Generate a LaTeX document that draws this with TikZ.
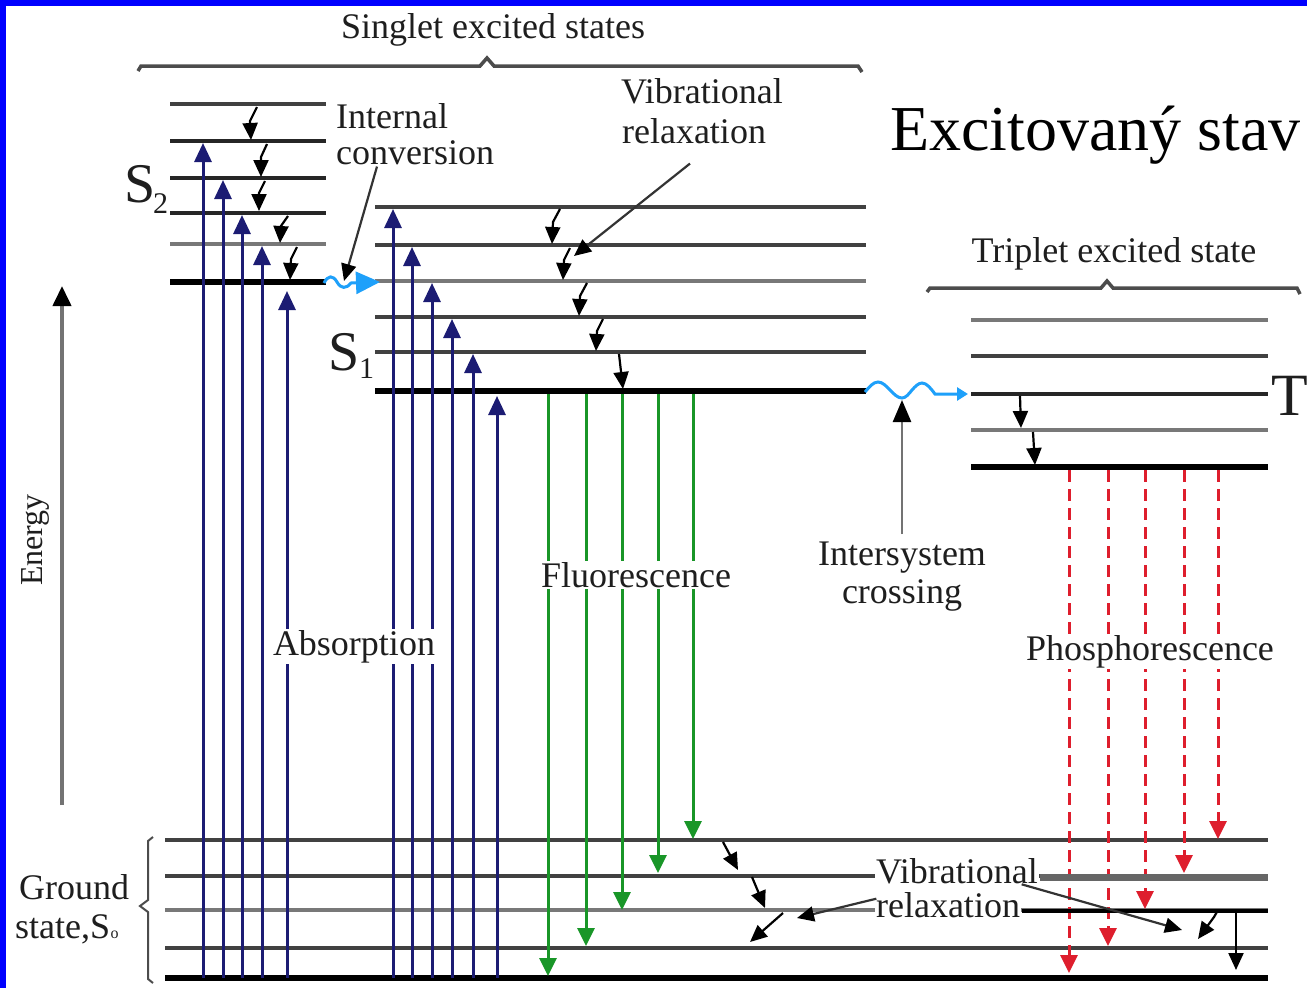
\documentclass[tikz,border=0pt]{standalone}
\usepackage{fontspec}
\setmainfont{Liberation Serif}
\usetikzlibrary{arrows.meta}
\definecolor{navyb}{RGB}{28,28,115}
\definecolor{fgreen}{RGB}{25,150,40}
\definecolor{pred}{RGB}{222,30,45}
\definecolor{skyb}{RGB}{30,160,250}
\definecolor{lvl}{RGB}{65,65,65}
\definecolor{lvll}{RGB}{120,120,120}
\definecolor{txt}{RGB}{30,30,30}
\definecolor{frameblue}{RGB}{0,0,255}
\begin{document}
\begin{tikzpicture}[x=1pt,y=-1pt,
  lab/.style={font=\fontsize{36}{38}\selectfont, text=txt, inner sep=0pt},
  labw/.style={lab, fill=white, inner sep=1.5pt},
  lev/.style={draw=lvl, line width=3.8pt},
  levl/.style={draw=lvll, line width=3.8pt},
  levt/.style={draw=black, line width=6.5pt},
  absarr/.style={draw=navyb, line width=3pt, -{Triangle[length=19pt,width=17pt]}},
  fluarr/.style={draw=fgreen, line width=3pt, -{Triangle[length=18pt,width=17pt]}},
  phoarr/.style={draw=pred, line width=3pt, dash pattern=on 12pt off 7pt, -{Triangle[length=18pt,width=17pt]}},
  vrarr/.style={draw=black, line width=2.2pt, -{Triangle[length=17pt,width=15pt]}},
  ptr/.style={draw=black!80, line width=2.2pt, -{Triangle[length=17pt,width=15pt,black]}},
  bracestyle/.style={draw=black!70, line width=3.5pt},
  wave/.style={draw=skyb, line width=3pt},
]
\useasboundingbox (0,0) rectangle (1307,988);
\fill[white] (0,0) rectangle (1307,988);
\fill[frameblue] (0,0) rectangle (1307,6);
\fill[frameblue] (0,0) rectangle (6,988);

% ---------- braces ----------
\draw[bracestyle] (138,71) -- (141,66) -- (480,66) -- (487,58) -- (494,66) -- (858,66) -- (862,72);
\draw[bracestyle] (927,292) -- (930,288) -- (1101,288) -- (1107,281) -- (1113,288) -- (1297,288) -- (1300,294);
\draw[bracestyle, line width=2pt] (153,837) -- (148,841) -- (148,900) -- (140,906) -- (148,912) -- (148,979) -- (153,983);

% ---------- S2 levels ----------
\draw[lev] (170,104) -- (326,104);
\draw[lev, draw=black!85] (170,141) -- (326,141);
\draw[lev, draw=black!85] (170,178) -- (326,178);
\draw[lev, draw=black!85] (170,213) -- (326,213);
\draw[levl] (170,244) -- (326,244);
\draw[levt] (170,282) -- (326,282);

% ---------- S1 levels ----------
\draw[lev] (375,207) -- (866,207);
\draw[lev] (375,245) -- (866,245);
\draw[levl] (375,281) -- (866,281);
\draw[lev] (375,317) -- (866,317);
\draw[lev] (375,352) -- (866,352);
\draw[levt] (375,391) -- (866,391);

% ---------- T1 levels ----------
\draw[levl] (971,320) -- (1268,320);
\draw[lev] (971,356) -- (1268,356);
\draw[lev, draw=black!85] (971,394) -- (1268,394);
\draw[levl] (971,430) -- (1268,430);
\draw[levt] (971,467) -- (1268,467);

% ---------- ground levels ----------
\draw[lev] (165,840) -- (1268,840);
\draw[lev] (165,876) -- (1268,876);
\draw[levl] (165,910) -- (1268,910);
\draw[lev] (165,948) -- (1268,948);
\draw[levt] (165,978) -- (1268,978);

% ---------- absorption ----------
\foreach \x/\t in {203/143, 223/180, 242/215, 262/246, 287/291,
                   393/209, 412/247, 432/283, 452/319, 473/354, 497/396}
  \draw[absarr] (\x,978) -- (\x,\t);

% ---------- fluorescence ----------
\foreach \x/\t in {548/976, 586/946, 622/910, 658/873, 693/839}
  \draw[fluarr] (\x,394) -- (\x,\t);

% ---------- phosphorescence ----------
\foreach \x/\t in {1069/973, 1108/946, 1145/909, 1184/873, 1218/839}
  \draw[phoarr] (\x,470) -- (\x,\t);

% ---------- vibrational relaxation (S2) ----------
\draw[vrarr] (257,107) -- (250,121) -- (251,140);
\draw[vrarr] (267,144) -- (261,157) -- (261,177);
\draw[vrarr] (265,181) -- (259,193) -- (259,211);
\draw[vrarr] (288,216) -- (281,226) -- (280,243);
\draw[vrarr] (297,247) -- (291,259) -- (290,280);

% ---------- vibrational relaxation (S1) ----------
\draw[vrarr] (560,209) -- (553,222) -- (552,244);
\draw[vrarr] (570,248) -- (564,260) -- (563,280);
\draw[vrarr] (587,283) -- (580,296) -- (579,316);
\draw[vrarr] (603,319) -- (597,331) -- (596,351);
\draw[vrarr] (619,354) -- (623,389);

% ---------- T1 relaxation ----------
\draw[vrarr] (1020,396) -- (1021,428);
\draw[vrarr] (1033,432) -- (1035,465);

% ---------- ground vibrational relaxation ----------
\draw[vrarr] (723,842) -- (738,870);
\draw[vrarr] (752,877) -- (765,908);
\draw[vrarr] (783,913) -- (750,942);
\draw[vrarr] (1218,910) -- (1214,917) -- (1198,939);
\draw[vrarr] (1236,913) -- (1236,970);

% ---------- wavy transitions ----------
\draw[wave, -{Triangle[length=24pt,width=22pt]}]
  (324,283) .. controls (328,275) and (333,275) .. (337,282)
  .. controls (341,289) and (346,289) .. (351,283) -- (380,282);
\draw[wave, -{Triangle[length=11pt,width=13pt]}]
  (865,392) sin (878,382) cos (890,390) sin (902,398) cos (912,390)
  sin (922,383) cos (935,394) -- (968,394);

% ---------- energy axis ----------
\draw[draw=black!55, line width=4pt, -{Triangle[length=20pt,width=18pt,black]}] (62,805) -- (62,286);
\node[font=\fontsize{32}{34}\selectfont, text=txt, rotate=90, inner sep=0pt] (energy) at (35,540) {Energy};

% ---------- labels ----------
\node[lab, anchor=base] (singlet) at (493,38) {Singlet excited states};
\node[lab, anchor=base west] (ic1) at (336,128) {Internal};
\node[lab, anchor=base west] (ic2) at (336,164) {conversion};
\node[lab, anchor=base] (vr1) at (702,103) {Vibrational};
\node[lab, anchor=base] (vr2) at (694,143) {relaxation};
\node[font=\fontsize{64}{66}\selectfont, text=black, anchor=base west, inner sep=0pt] (exc) at (890,150) {Excitovaný stav};
\node[lab, anchor=base] (tripl) at (1114,262) {Triplet excited state};
\node[lab, anchor=base] (isc1) at (902,565) {Intersystem};
\node[lab, anchor=base] (isc2) at (902,603) {crossing};

\node[font=\fontsize{56}{58}\selectfont, text=txt, anchor=base west, inner sep=0pt] (s2) at (124,202) {S};
\node[font=\fontsize{30}{32}\selectfont, text=txt, anchor=base west, inner sep=0pt] (s2sub) at (153,213) {2};
\node[font=\fontsize{56}{58}\selectfont, text=txt, anchor=base west, inner sep=0pt] (s1) at (328,370) {S};
\node[font=\fontsize{30}{32}\selectfont, text=txt, anchor=base west, inner sep=0pt] (s1sub) at (359,378) {1};
\node[font=\fontsize{60}{62}\selectfont, text=txt, anchor=base west, inner sep=0pt] (tlab) at (1271,415) {T};

\node[lab, anchor=base west] (gr1) at (19,899) {Ground};
\node[lab, anchor=base west] (gr2) at (15,938) {state,S};
\node[font=\fontsize{16}{16}\selectfont, text=txt, anchor=base west, inner sep=0pt] (gr2sub) at (gr2.base east) {o};

% ---------- labels on white (interrupt lines) ----------
\node[labw, anchor=base] (fluo) at (636,587) {Fluorescence};
\node[labw, anchor=base] (abs) at (354,655) {Absorption};
\node[labw, anchor=base] (phos) at (1150,660) {Phosphorescence};
\node[labw, anchor=base] (bvr1) at (957,883) {Vibrational};
\node[labw, anchor=base] (bvr2) at (948,917) {relaxation};
\draw[draw=black!60, line width=7pt] (bvr1.east |- 0,877) -- (1268,877);
\draw[draw=black, line width=4pt] (bvr2.east |- 0,911) -- (1268,911);

% ---------- pointers ----------
\draw[ptr] (ic2.south west) ++(41,2) -- (344,281);
\draw[ptr] (vr2.south) ++(-4,20) -- (574,256);
\draw[draw=black!55, line width=2.5pt, -{Triangle[length=22pt,width=18pt,black]}] (isc1.north) ++(0,-7) -- (902,400);
\draw[ptr] (bvr2.west) ++(2,-6) -- (797,918);
\draw[ptr] (bvr2.north east) ++(0,-6) -- (1182,930);
\end{tikzpicture}
\end{document}
